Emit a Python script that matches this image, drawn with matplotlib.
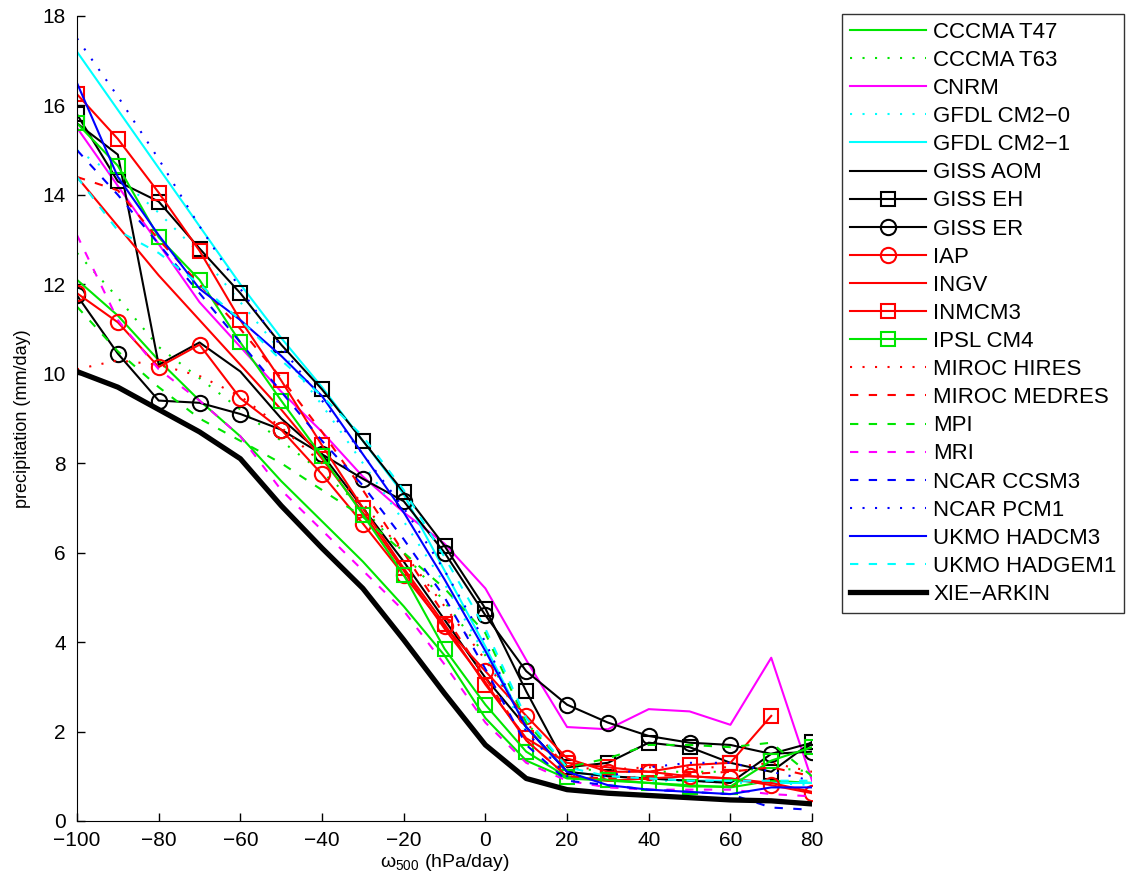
import numpy as np
import matplotlib
matplotlib.use("Agg")
import matplotlib.pyplot as plt

plt.rcParams['font.family'] = ['Liberation Sans', 'DejaVu Sans']
plt.rcParams['mathtext.fontset'] = 'custom'
plt.rcParams['mathtext.rm'] = 'Liberation Sans'
plt.rcParams['mathtext.it'] = 'Liberation Sans'

# omega_500 bins (hPa/day)
omega = [-100, -90, -80, -70, -60, -50, -40, -30, -20, -10, 0, 10, 20, 30, 40, 50, 60, 70, 80]

# precipitation (mm/day) per model
cccma_t47 = [12.1, 11.3, 10.3, 9.4, 8.6, 7.6, 6.7, 5.8, 4.8, 3.7, 2.3, 1.35, 0.95, 0.9, 0.85, 0.8, 0.75, 0.9, 0.85]
cccma_t63 = [12.7, 11.7, 10.6, 9.9, 9.2, 8.5, 7.8, 7.0, 6.0, 4.9, 3.7, 2.2, 1.2, 1.1, 1.1, 1.1, 1.1, 1.2, 1.1]
cnrm = [15.5, 14.2, 12.9, 11.6, 10.6, 9.6, 8.7, 7.7, 6.9, 6.2, 5.2, 3.6, 2.1, 2.05, 2.5, 2.45, 2.15, 3.65, 0.9]
gfdl_cm20 = [15.0, 14.4, 13.6, 12.7, 11.6, 10.5, 9.3, 8.0, 6.7, 5.3, 3.7, 2.0, 1.0, 0.95, 0.9, 0.9, 0.85, 0.85, 0.8]
gfdl_cm21 = [17.2, 15.9, 14.6, 13.3, 12.0, 10.8, 9.7, 8.5, 7.3, 5.6, 3.9, 2.1, 1.1, 1.0, 0.95, 0.9, 0.9, 0.85, 0.85]
giss_aom = [15.6, 14.9, 10.2, 10.7, 10.05, 9.0, 8.2, 7.0, 5.8, 4.5, 3.2, 2.1, 1.1, 1.0, 0.95, 0.9, 0.85, 1.5, 1.75]
giss_eh = [15.8, 14.3, 13.85, 12.8, 11.8, 10.65, 9.65, 8.5, 7.35, 6.15, 4.75, 2.9, 1.2, 1.3, 1.75, 1.65, 1.3, 1.1, 1.77]
giss_er = [11.75, 10.45, 9.4, 9.35, 9.1, 8.75, 8.2, 7.65, 7.15, 6.0, 4.6, 3.35, 2.6, 2.2, 1.9, 1.75, 1.7, 1.5, 1.55]
iap = [11.8, 11.15, 10.15, 10.65, 9.45, 8.75, 7.75, 6.65, 5.5, 4.35, 3.35, 2.35, 1.4, 1.1, 1.1, 1.0, 0.95, 0.8, 0.62]
ingv = [14.4, 13.3, 12.2, 11.2, 10.2, 9.2, 8.1, 6.9, 5.6, 4.3, 3.1, 1.8, 1.0, 0.9, 0.95, 1.0, 0.95, 0.85, 0.65]
inmcm3 = [16.25, 15.25, 14.05, 12.75, 11.2, 9.85, 8.4, 7.0, 5.65, 4.4, 3.05, 1.85, 1.3, 1.2, 1.1, 1.25, 1.3, 2.35, np.nan]
ipsl_cm4 = [15.6, 14.65, 13.05, 12.1, 10.7, 9.4, 8.15, 6.85, 5.5, 3.85, 2.6, 1.55, 0.98, 0.92, 0.85, 0.77, 0.77, 1.35, 1.65]
miroc_hires = [10.1, 10.3, 10.2, 9.95, 9.5, 8.8, 8.0, 7.1, 6.0, 4.8, 3.6, 2.2, 1.2, 1.15, 1.2, 1.2, 1.2, 1.3, 1.1]
miroc_medres = [14.4, 14.1, 13.0, 12.0, 11.0, 9.9, 8.7, 7.4, 6.0, 4.6, 3.2, 1.8, 1.0, 0.95, 1.0, 1.05, 1.1, 1.2, 1.0]
mpi = [11.5, 10.5, 9.7, 9.0, 8.5, 8.0, 7.4, 6.8, 6.0, 5.2, 4.2, 2.2, 1.2, 1.4, 1.7, 1.7, 1.65, 1.75, 1.0]
mri = [13.1, 11.2, 10.1, 9.4, 8.6, 7.4, 6.5, 5.6, 4.7, 3.5, 2.2, 1.3, 0.9, 0.75, 0.7, 0.7, 0.7, 0.6, 0.55]
ncar_ccsm3 = [15.0, 14.0, 12.9, 11.8, 10.7, 9.6, 8.5, 7.5, 6.3, 5.0, 3.4, 1.7, 0.9, 0.8, 0.7, 0.65, 0.6, 0.3, 0.25]
ncar_pcm1 = [17.5, 16.2, 14.8, 13.3, 11.9, 10.6, 9.4, 8.2, 7.0, 5.6, 4.0, 2.0, 1.0, 1.0, 1.2, 1.3, 1.3, 1.1, 0.9]
ukmo_hadcm3 = [16.5, 14.4, 13.1, 11.9, 11.2, 10.4, 9.5, 8.2, 6.9, 5.4, 3.8, 2.1, 1.1, 0.8, 0.7, 0.65, 0.6, 0.75, 0.75]
ukmo_hadgem1 = [14.4, 13.2, 12.7, 12.0, 11.2, 10.3, 9.5, 8.6, 7.4, 5.9, 4.3, 2.3, 1.2, 1.0, 0.95, 0.9, 0.9, 0.9, 0.9]
xie_arkin = [10.05, 9.7, 9.2, 8.7, 8.1, 7.05, 6.1, 5.2, 4.05, 2.85, 1.7, 0.95, 0.7, 0.62, 0.57, 0.52, 0.47, 0.45, 0.38]

G = '#00e600'
dash = (0, (4, 5))
dot = (0, (1, 5))

series = [
    ('CCCMA T47', cccma_t47, G, '-', None),
    ('CCCMA T63', cccma_t63, G, dot, None),
    ('CNRM', cnrm, 'magenta', '-', None),
    ('GFDL CM2\u22120', gfdl_cm20, 'cyan', dot, None),
    ('GFDL CM2\u22121', gfdl_cm21, 'cyan', '-', None),
    ('GISS AOM', giss_aom, 'black', '-', None),
    ('GISS EH', giss_eh, 'black', '-', 's'),
    ('GISS ER', giss_er, 'black', '-', 'o'),
    ('IAP', iap, 'red', '-', 'o'),
    ('INGV', ingv, 'red', '-', None),
    ('INMCM3', inmcm3, 'red', '-', 's'),
    ('IPSL CM4', ipsl_cm4, G, '-', 's'),
    ('MIROC HIRES', miroc_hires, 'red', dot, None),
    ('MIROC MEDRES', miroc_medres, 'red', dash, None),
    ('MPI', mpi, G, dash, None),
    ('MRI', mri, 'magenta', dash, None),
    ('NCAR CCSM3', ncar_ccsm3, 'blue', dash, None),
    ('NCAR PCM1', ncar_pcm1, 'blue', dot, None),
    ('UKMO HADCM3', ukmo_hadcm3, 'blue', '-', None),
    ('UKMO HADGEM1', ukmo_hadgem1, 'cyan', dash, None),
]

fig = plt.figure(figsize=(11.26, 8.88), dpi=100)
ax = fig.add_axes([0.0684, 0.0755, 0.6528, 0.9065])

for name, vals, col, ls, mk in series:
    ms = 9.5 if mk == 's' else 11
    ax.plot(omega, vals, color=col, linestyle=ls, linewidth=1.5, marker=mk,
            markersize=ms, markerfacecolor='none', markeredgewidth=1.5, label=name)
ax.plot(omega, xie_arkin, color='black', linewidth=3.8, label='XIE\u2212ARKIN')

ax.set_xlim(-100, 80)
ax.set_ylim(0, 18)
ax.set_xticks(range(-100, 81, 20))
ax.set_yticks(range(0, 19, 2))
ax.tick_params(direction='in', length=6, labelsize=15, width=1)
ax.tick_params(axis='x', pad=7)
ax.tick_params(axis='y', pad=8)
ax.spines['top'].set_visible(False)
ax.spines['right'].set_visible(False)
ax.set_xlabel('\u03c9$_{500}$ (hPa/day)', fontsize=14, labelpad=2)
ax.set_ylabel('precipitation (mm/day)', fontsize=13, labelpad=8)

leg = ax.legend(loc='upper left', bbox_to_anchor=(1.041, 1.0025), fontsize=16,
                handlelength=3.4, labelspacing=0.32, frameon=True, fancybox=False,
                edgecolor='black', borderpad=0.35, handletextpad=0.35,
                borderaxespad=0)
leg.get_frame().set_linewidth(1.0)

fig.savefig('out.png', dpi=100)
